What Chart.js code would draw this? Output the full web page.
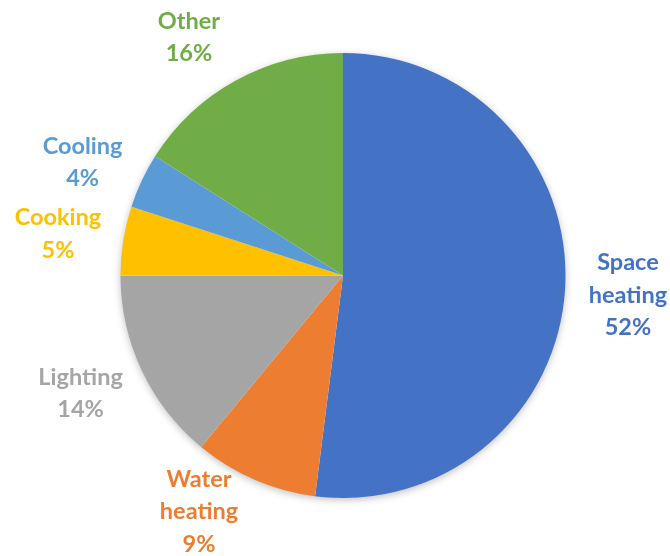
<!DOCTYPE html>
<html>
<head>
<meta charset="utf-8">
<script src="https://cdn.jsdelivr.net/npm/chart.js@4.4.0/dist/chart.umd.min.js"></script>
<style>
  html, body { margin: 0; padding: 0; background: #fff; }
  #wrap { width: 670px; height: 556px; }
</style>
</head>
<body>
<div id="wrap"><canvas id="energy-chart"></canvas></div>
<script>
// data
var categories = ["Space heating", "Water heating", "Lighting", "Cooking", "Cooling", "Other"];
var labelLines = [["Space", "heating"], ["Water", "heating"], ["Lighting"], ["Cooking"], ["Cooling"], ["Other"]];
var shares = [52, 9, 14, 5, 4, 16];
var colors = ["#4472C4", "#ED7D31", "#A5A5A5", "#FFC000", "#5B9BD5", "#70AD47"];

// small tweaks so the labels sit where Excel put them
var labelNudge = [[1, 2], [-31, -25], [-5, -3], [-4, 3], [-3, 8], [-17, 11]];

// soft shadow under the whole pie
var pieShadow = {
  id: "pieShadow",
  beforeDatasetsDraw: function (chart) {
    var arc = chart.getDatasetMeta(0).data[0];
    var c = chart.ctx;
    c.save();
    c.shadowColor = "rgba(0,0,0,0.3)";
    c.shadowBlur = 8;
    c.shadowOffsetY = 2;
    c.fillStyle = "#ffffff";
    c.beginPath();
    c.arc(arc.x, arc.y, arc.outerRadius - 1, 0, Math.PI * 2);
    c.fill();
    c.restore();
  }
};

// category + percent labels outside each slice
var outsideLabels = {
  id: "outsideLabels",
  afterDatasetsDraw: function (chart) {
    var c = chart.ctx;
    var meta = chart.getDatasetMeta(0);
    c.save();
    c.font = "bold 23.5px Lato, 'Open Sans', sans-serif";
    c.textAlign = "center";
    c.textBaseline = "middle";
    meta.data.forEach(function (arc, i) {
      var mid = (arc.startAngle + arc.endAngle) / 2;
      var r = arc.outerRadius + 62;
      var x = arc.x + Math.cos(mid) * r + labelNudge[i][0];
      var y = arc.y + Math.sin(mid) * r + labelNudge[i][1];
      var lines = labelLines[i].concat([shares[i] + "%"]);
      var lh = 32.5;
      var top = y - (lines.length - 1) * lh / 2;
      c.fillStyle = colors[i];
      lines.forEach(function (t, k) {
        c.fillText(t, x, top + k * lh);
      });
    });
    c.restore();
  }
};

var ctx = document.getElementById("energy-chart").getContext("2d");
var chart = new Chart(ctx, {
  type: "pie",
  data: {
    labels: categories,
    datasets: [
      {
        data: shares,
        backgroundColor: colors,
        borderWidth: 0,
      },
    ],
  },
  options: {
    responsive: true,
    maintainAspectRatio: false,
    animation: false,
    events: [],
    layout: {
      padding: { top: 53, bottom: 58, left: 120, right: 104 },
    },
    plugins: {
      legend: { display: false },
      tooltip: { enabled: false },
    },
  },
  plugins: [pieShadow, outsideLabels],
});
</script>
</body>
</html>
